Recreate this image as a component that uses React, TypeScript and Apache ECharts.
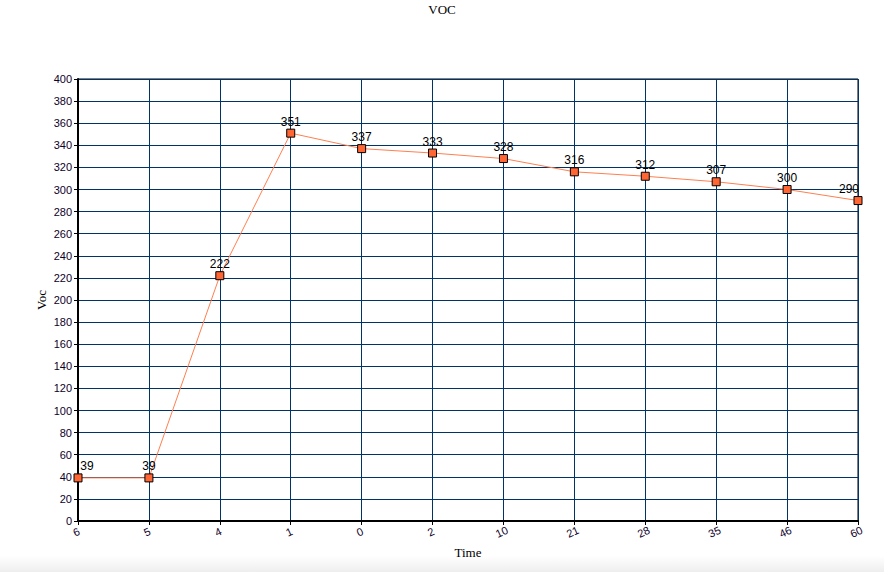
import React, { useEffect, useRef } from "react";
import * as echarts from "echarts";

const categories = ["6", "5", "4", "1", "0", "2", "10", "21", "28", "35", "46", "60"];
const vocValues = [39, 39, 222, 351, 337, 333, 328, 316, 312, 307, 300, 290];
const titleText = "VOC";
const yName = "Voc";
const xName = "Time";

export default function App() {
  const ref = useRef<HTMLDivElement>(null);
  useEffect(() => {
    if (!ref.current) return;
    const chart = echarts.init(ref.current, null, { renderer: "svg" });
    const last = vocValues.length - 1;
    chart.setOption({
      animation: false,
      backgroundColor: "#ffffff",
      title: {
        text: titleText,
        left: "center",
        top: 3,
        padding: 0,
        textStyle: { fontFamily: "Liberation Serif", fontSize: 13, fontWeight: "normal", color: "#000000" },
      },
      graphic: [
        {
          type: "rect",
          left: 0,
          bottom: 0,
          shape: { width: 884, height: 16 },
          style: {
            fill: new echarts.graphic.LinearGradient(0, 0, 0, 1, [
              { offset: 0, color: "#ffffff" },
              { offset: 1, color: "#eeeeee" },
            ]),
          },
          silent: true,
          z: -1,
        },
      ],
      grid: {
        left: 78,
        right: 26,
        top: 79,
        bottom: 51,
        show: true,
        borderColor: "#000000",
        borderWidth: 1,
        backgroundColor: "transparent",
      },
      xAxis: {
        type: "category",
        data: categories,
        boundaryGap: false,
        name: xName,
        nameLocation: "middle",
        nameGap: 25,
        nameTextStyle: { fontFamily: "Liberation Serif", fontSize: 13, color: "#000000" },
        axisLine: { lineStyle: { color: "#000000", width: 2 } },
        axisTick: { show: true, length: 4, alignWithLabel: true, lineStyle: { color: "#000000" } },
        axisLabel: {
          rotate: 25,
          align: "center",
          verticalAlign: "top",
          margin: 4,
          padding: [0, 9, 0, 0],
          fontFamily: "Liberation Sans",
          fontSize: 11,
          color: "#10002a",
          interval: 0,
        },
        splitLine: { show: true, lineStyle: { color: "#003366", width: 1 } },
      },
      yAxis: {
        type: "value",
        min: 0,
        max: 400,
        interval: 20,
        name: yName,
        nameLocation: "middle",
        nameGap: 30,
        nameMoveOverlap: false,
        nameRotate: 90,
        nameTextStyle: { fontFamily: "Liberation Serif", fontSize: 13, color: "#000000" },
        axisLine: { show: true, lineStyle: { color: "#000000", width: 2 } },
        axisTick: { show: true, length: 4, lineStyle: { color: "#000000" } },
        axisLabel: { margin: 6, fontFamily: "Liberation Sans", fontSize: 11, color: "#10002a" },
        splitLine: { show: true, lineStyle: { color: "#003366", width: 1 } },
      },
      series: [
        {
          type: "line",
          data: vocValues.map((v, i) => ({
            value: v,
            label:
              i === 0
                ? { position: "top", offset: [9, 0] }
                : i === last
                ? { position: "top", offset: [-9, 0] }
                : undefined,
          })),
          symbol: "rect",
          symbolSize: 8,
          itemStyle: { color: "#ff6633", borderColor: "#000000", borderWidth: 1 },
          lineStyle: { color: "#ff7f50", width: 1 },
          label: {
            show: true,
            position: "top",
            distance: 1,
            fontFamily: "Liberation Sans",
            fontSize: 12,
            color: "#000000",
          },
          z: 3,
        },
      ],
    });
    return () => chart.dispose();
  }, []);
  return (
    <div
      ref={ref}
      style={{ position: "fixed", left: 0, top: 0, width: 884, height: 572 }}
    />
  );
}
